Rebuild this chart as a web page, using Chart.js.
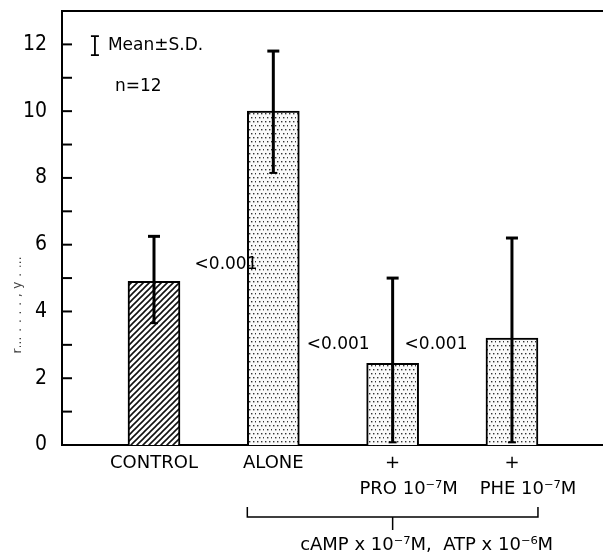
<!DOCTYPE html>
<html>
<head>
<meta charset="utf-8">
<script src="https://cdn.jsdelivr.net/npm/chart.js@4.4.1/dist/chart.umd.min.js"></script>
<style>
  body { margin: 0; background: #fff; }
  #wrap { width: 603px; height: 558px; }
</style>
</head>
<body>
<div id="wrap"><canvas id="chart" width="603" height="558"></canvas></div>
<script>
// data
var categories = ['CONTROL', 'ALONE', '+', '+'];
var subLabels = ['', '', 'PRO 10\u207B\u2077M', 'PHE 10\u207B\u2077M'];
var means = [4.9, 10.0, 2.45, 3.2];
var errHigh = [6.25, 11.8, 5.0, 6.2];
var errLow = [3.65, 8.15, 0.08, 0.08];
var pValues = ['<0.001', '<0.001', '<0.001'];
var yTicks = [0, 2, 4, 6, 8, 10, 12];

var FONT = "'DejaVu Sans', 'Liberation Sans', sans-serif";
var NUMFONT = "'Liberation Sans Narrow', 'DejaVu Sans Condensed', 'Liberation Sans', sans-serif";

function hatchPattern() {
    var c = document.createElement('canvas');
    c.width = 6; c.height = 6;
    var g = c.getContext('2d');
    g.fillStyle = '#fff';
    g.fillRect(0, 0, 6, 6);
    g.strokeStyle = '#111';
    g.lineWidth = 1.6;
    g.beginPath();
    g.moveTo(0, 6); g.lineTo(6, 0);
    g.moveTo(-1, 1); g.lineTo(1, -1);
    g.moveTo(5, 7); g.lineTo(7, 5);
    g.stroke();
    return g.createPattern(c, 'repeat');
}

function dotPattern() {
    var c = document.createElement('canvas');
    c.width = 8; c.height = 8;
    var g = c.getContext('2d');
    g.fillStyle = '#fafafa';
    g.fillRect(0, 0, 8, 8);
    g.fillStyle = '#333';
    [[1, 1], [5, 1], [3, 5], [7, 5]].forEach(function(p) {
        g.fillRect(p[0], p[1], 1.4, 1.4);
    });
    return g.createPattern(c, 'repeat');
}

var ctx = document.getElementById('chart').getContext('2d');
var dots = dotPattern();

// error bars, inward ticks, frame, labels and bracket
var decorations = {
    id: 'decorations',
    afterDatasetsDraw: function(chart) {
        var c = chart.ctx;
        var x = chart.scales.x, y = chart.scales.y;
        var area = chart.chartArea;
        c.save();
        c.strokeStyle = '#000';
        c.fillStyle = '#000';

        // top frame line
        c.lineWidth = 2;
        c.beginPath();
        c.moveTo(area.left, area.top);
        c.lineTo(area.right, area.top);
        c.stroke();

        // inward tick marks
        c.lineWidth = 2;
        for (var v = 1; v <= 12; v++) {
            var py = y.getPixelForValue(v);
            c.beginPath();
            c.moveTo(area.left, py);
            c.lineTo(area.left + 10, py);
            c.stroke();
        }

        // error bars
        means.forEach(function(m, i) {
            var px = x.getPixelForValue(i);
            var top = y.getPixelForValue(errHigh[i]);
            var bot = y.getPixelForValue(errLow[i]);
            c.lineWidth = 3;
            c.beginPath();
            c.moveTo(px, top); c.lineTo(px, bot);
            c.stroke();
            c.beginPath();
            c.moveTo(px - 6, top); c.lineTo(px + 6, top);
            c.stroke();
            c.lineWidth = 2;
            c.beginPath();
            c.moveTo(px - 4, bot); c.lineTo(px + 4, bot);
            c.stroke();
        });

        // p values
        c.font = '17px ' + FONT;
        c.textAlign = 'left';
        c.textBaseline = 'middle';
        var pPos = [[0.34, 5.4], [1.28, 3.0], [2.1, 3.0]];
        pValues.forEach(function(t, i) {
            c.fillText(t, x.getPixelForValue(pPos[i][0]), y.getPixelForValue(pPos[i][1]));
        });

        // key: I-bar, Mean ± S.D., n = 12
        var kx = x.getPixelForValue(-0.495);
        var k1 = y.getPixelForValue(12.25), k2 = y.getPixelForValue(11.68);
        c.lineWidth = 1.8;
        c.beginPath();
        c.moveTo(kx, k1); c.lineTo(kx, k2);
        c.moveTo(kx - 4, k1); c.lineTo(kx + 4, k1);
        c.moveTo(kx - 4, k2); c.lineTo(kx + 4, k2);
        c.stroke();
        c.font = '17px ' + FONT;
        c.fillText('Mean\u00B1S.D.', kx + 13, y.getPixelForValue(11.95));
        c.fillText('n=12', kx + 20, y.getPixelForValue(10.75));

        // x category labels
        c.textAlign = 'center';
        c.textBaseline = 'middle';
        c.font = '18px ' + FONT;
        categories.forEach(function(t, i) {
            var px = x.getPixelForValue(i);
            c.fillText(t, px, area.bottom + 18);
            if (subLabels[i]) {
                c.fillText(subLabels[i], px + 16, area.bottom + 44);
            }
        });

        // bracket under the cAMP groups
        var meta = chart.getDatasetMeta(0);
        var b1 = meta.data[1], b3 = meta.data[3];
        var bl = b1.x - b1.width / 2, br = b3.x + b3.width / 2;
        var by = area.bottom + 72;
        c.lineWidth = 1.5;
        c.beginPath();
        c.moveTo(bl, by - 10); c.lineTo(bl, by); c.lineTo(br, by); c.lineTo(br, by - 10);
        var mid = x.getPixelForValue(2);
        c.moveTo(mid, by); c.lineTo(mid, by + 13);
        c.stroke();
        c.fillText('cAMP x 10\u207B\u2077M,  ATP x 10\u207B\u2076M', mid + 34, area.bottom + 100);

        // faint y axis title
        c.save();
        c.translate(18, y.getPixelForValue(4.2));
        c.rotate(-Math.PI / 2);
        c.font = '12px ' + FONT;
        c.fillStyle = '#444';
        c.fillText('r\u2026\u2009\u2009.\u2009\u2009.\u2009\u2009.\u2009\u2009.\u2009\u2009,\u2009\u2009y\u2009\u2009.\u2009\u2009\u2026', 0, 0);
        c.restore();

        c.restore();
    }
};

var chart = new Chart(ctx, {
    type: 'bar',
    data: {
        datasets: [{
            data: means.map(function(v, i) { return { x: i, y: v }; }),
            backgroundColor: [hatchPattern(), dots, dots, dots],
            borderColor: '#000',
            borderWidth: 2,
            borderSkipped: 'bottom',
            barThickness: 52
        }]
    },
    options: {
        responsive: false,
        animation: false,
        layout: { padding: { top: 11, right: 0, left: 0, bottom: 0 } },
        plugins: {
            legend: { display: false },
            tooltip: { enabled: false }
        },
        scales: {
            x: {
                type: 'linear',
                offset: false,
                min: -0.771,
                max: 3.763,
                grid: { display: false, offset: false },
                border: { display: true, color: '#000', width: 2 },
                ticks: { display: false },
                afterFit: function(scale) { scale.height = 113; }
            },
            y: {
                min: 0,
                max: 13,
                afterBuildTicks: function(scale) {
                    scale.ticks = yTicks.map(function(v) { return { value: v }; });
                },
                grid: { display: false },
                border: { display: true, color: '#000', width: 2 },
                ticks: {
                    color: '#000',
                    padding: 7,
                    font: { family: NUMFONT, size: 21 }
                },
                afterFit: function(scale) {
                    scale.width = 62;
                    scale.paddingTop = 0;
                    scale.paddingBottom = 0;
                }
            }
        }
    },
    plugins: [decorations]
});
</script>
</body>
</html>
